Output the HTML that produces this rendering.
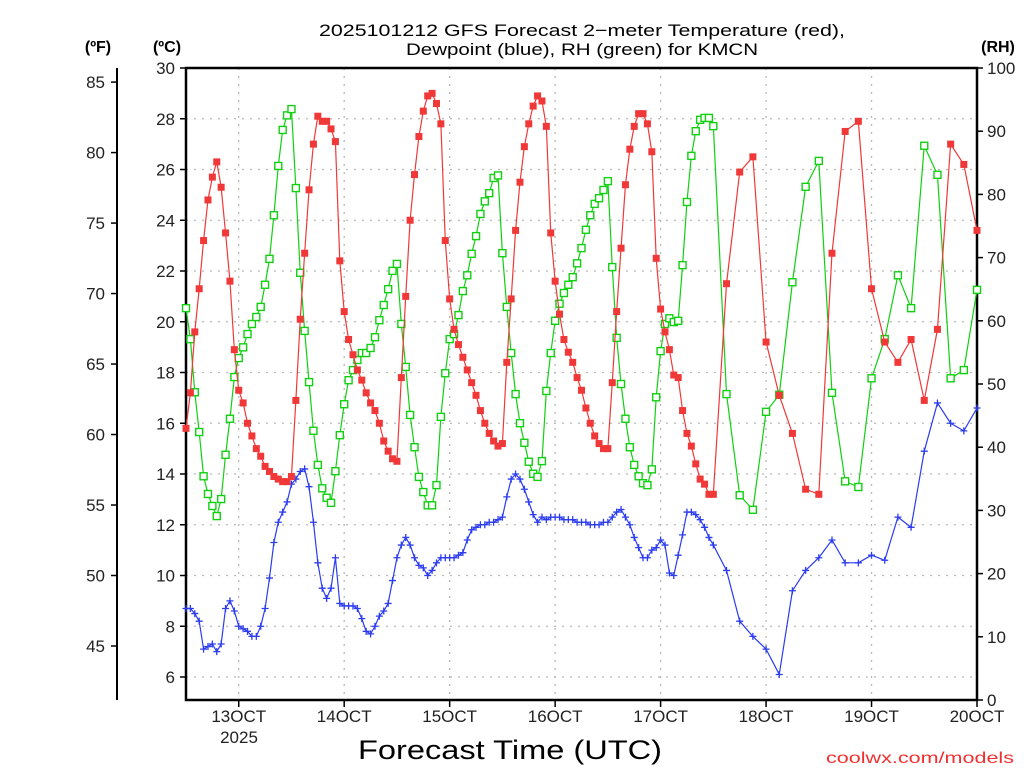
<!DOCTYPE html>
<html><head><meta charset="utf-8"><style>
html,body{margin:0;padding:0;background:#fff;}
svg{display:block;font-family:"Liberation Sans",sans-serif;}
</style></head><body>
<svg id="chart" width="1024" height="768" viewBox="0 0 1024 768" xmlns="http://www.w3.org/2000/svg">
<g id="grid"></g>
<g id="axes"></g>
<g id="series"></g>
<text x="582" y="36" font-size="17" text-anchor="middle" textLength="526" lengthAdjust="spacingAndGlyphs">2025101212 GFS Forecast 2−meter Temperature (red),</text>
<text x="582" y="55" font-size="17" text-anchor="middle" textLength="352" lengthAdjust="spacingAndGlyphs">Dewpoint (blue), RH (green) for KMCN</text>
<text x="98" y="52" font-size="16" font-weight="bold" text-anchor="middle">(ºF)</text>
<text x="167" y="52" font-size="16" font-weight="bold" text-anchor="middle">(ºC)</text>
<text x="998" y="52" font-size="16" font-weight="bold" text-anchor="middle">(RH)</text>
<text x="239" y="743" font-size="17" text-anchor="middle" fill="#222">2025</text>
<text x="510" y="759" font-size="27" text-anchor="middle" textLength="304" lengthAdjust="spacingAndGlyphs">Forecast Time (UTC)</text>
<text x="1014" y="763" font-size="16" fill="#f03030" text-anchor="end" textLength="188" lengthAdjust="spacingAndGlyphs">coolwx.com/models</text>
</svg>
<script>
// temperature (°C), hourly from -12h (rel. 13OCT 00Z) to 108h
const tempEarly=[15.8,17.2,19.6,21.3,23.2,24.8,25.7,26.3,25.3,23.5,21.6,18.9,17.3,16.8,16.0,15.5,15.0,14.7,14.3,14.1,13.9,13.8,13.7,13.7,13.9,16.9,20.1,22.7,25.2,27.0,28.1,27.9,27.9,27.6,27.1,22.4,20.4,19.3,18.7,18.1,17.7,17.2,16.8,16.5,16.0,15.3,14.9,14.6,14.5,17.8,21.0,24.0,25.8,27.3,28.3,28.9,29.0,28.6,27.8,23.2,20.9,19.7,19.1,18.6,18.1,17.6,17.1,16.5,16.0,15.6,15.3,15.1,15.2,18.4,20.9,23.6,25.5,26.9,27.8,28.5,28.9,28.7,27.7,23.5,21.6,20.3,19.3,18.8,18.4,17.8,17.3,16.6,16.0,15.5,15.2,15.0,15.0,17.6,20.4,22.9,25.4,26.8,27.7,28.2,28.2,27.8,26.7,22.5,20.5,19.6,18.9,17.9,17.8,16.5,15.6,15.1,14.4,13.8,13.6,13.2,13.2];
// temperature 3-hourly from 111h to 168h
const tempLate=[21.5,25.9,26.5,19.2,17.1,15.6,13.4,13.2,22.7,27.5,27.9,21.3,19.2,18.4,19.3,16.9,19.7,27.0,26.2,23.6];
const rhEarly=[62.0,57.1,48.7,42.4,35.4,32.6,30.7,29.1,31.8,38.8,44.5,51.1,54.1,55.8,57.9,59.5,60.6,62.2,65.7,69.8,76.7,84.5,90.2,92.5,93.5,81.0,67.6,58.4,50.3,42.6,37.2,33.5,32.0,31.2,36.2,41.9,46.8,50.6,52.2,53.8,54.9,54.9,55.7,57.4,60.1,62.5,65.0,67.9,69.0,59.5,52.7,45.1,40.0,35.3,32.9,30.8,30.8,34.0,44.8,51.7,57.1,57.9,60.9,64.7,67.2,70.6,73.4,76.9,78.9,80.2,82.6,83.0,70.7,62.2,54.9,48.4,43.8,40.7,37.7,35.8,35.3,37.8,48.9,54.9,60.0,62.7,64.4,65.7,66.9,69.1,71.5,74.4,76.7,78.5,79.4,80.7,82.1,68.5,57.3,50.0,44.5,40.0,37.2,35.4,34.3,34.0,36.5,47.9,55.2,59.5,60.4,59.8,60.0,68.8,78.8,86.1,90.0,91.8,92.1,92.1,90.8];
const rhLate=[48.4,32.4,30.1,45.6,48.3,66.1,81.2,85.3,48.6,34.6,33.7,50.9,57.1,67.2,62.0,87.7,83.1,50.9,52.2,64.9];
const dewEarly=[8.7,8.7,8.5,8.2,7.1,7.2,7.3,7.0,7.3,8.7,9.0,8.6,8.0,7.9,7.8,7.6,7.6,8.0,8.7,9.9,11.3,12.1,12.5,12.9,13.6,13.8,14.1,14.2,13.5,12.1,10.5,9.5,9.1,9.5,10.7,8.9,8.8,8.8,8.8,8.7,8.3,7.8,7.7,8.0,8.4,8.6,8.9,9.8,10.7,11.2,11.5,11.2,10.7,10.4,10.3,10.0,10.2,10.5,10.7,10.7,10.7,10.7,10.8,10.9,11.4,11.8,11.9,12.0,12.0,12.1,12.1,12.2,12.3,13.1,13.8,14.0,13.8,13.4,12.9,12.4,12.1,12.3,12.2,12.3,12.3,12.3,12.2,12.2,12.2,12.1,12.1,12.1,12.0,12.0,12.0,12.1,12.1,12.3,12.5,12.6,12.3,12.0,11.5,11.1,10.7,10.7,11.0,11.1,11.4,11.2,10.1,10.0,10.8,11.6,12.5,12.5,12.4,12.2,11.9,11.5,11.2];
const dewLate=[10.2,8.2,7.6,7.1,6.1,9.4,10.2,10.7,11.4,10.5,10.5,10.8,10.6,12.3,11.9,14.9,16.8,16.0,15.7,16.6];
const celsiusTicks=[6,8,10,12,14,16,18,20,22,24,26,28,30];
const fahrenheitTicks=[45,50,55,60,65,70,75,80,85];
const rhTicks=[0,10,20,30,40,50,60,70,80,90,100];
const dayLabels=["13OCT","14OCT","15OCT","16OCT","17OCT","18OCT","19OCT","20OCT"];

const L=186,R=977,T=68,B=700;
const H0=-12,H1=168;
const C_TOP=30,C_PER_PX=1/25.375;
function xS(h){return L+(h-H0)/(H1-H0)*(R-L);}
function yC(c){return T+(C_TOP-c)*25.375;}
function yRH(r){return B-(r/100)*(B-T);}
function yF(f){return yC((f-32)/1.8);}
function hoursEarly(i){return -12+i;}
function hoursLate(i){return 111+3*i;}

const NS="http://www.w3.org/2000/svg";
function mk(tag,attrs,parent){const e=document.createElementNS(NS,tag);for(const k in attrs)e.setAttribute(k,attrs[k]);parent.appendChild(e);return e;}
const grid=document.getElementById('grid'),axes=document.getElementById('axes'),ser=document.getElementById('series');

// grid
celsiusTicks.forEach(c=>{if(c===30)return;
 const g=mk('line',{x1:L,x2:R,y1:yC(c),y2:yC(c),stroke:'#b8b8b8','stroke-width':1.3,'stroke-dasharray':'2,6'},grid);
 
 
});
dayLabels.forEach((d,i)=>{const h=i*24;if(h>=H1)return;
 const g=mk('line',{x1:xS(h),x2:xS(h),y1:T,y2:B,stroke:'#b8b8b8','stroke-width':1.3,'stroke-dasharray':'2,6'},grid);
 
 
});
// frame
const fr=mk('rect',{x:L,y:T,width:R-L,height:B-T,fill:'none',stroke:'#000','stroke-width':2.5},axes);


// celsius ticks
celsiusTicks.forEach(c=>{const y=yC(c);
 mk('line',{x1:L-6,x2:L,y1:y,y2:y,stroke:'#000','stroke-width':1.5},axes);
 const t=mk('text',{x:L-11,y:y+6,'font-size':17,'text-anchor':'end',fill:'#222'},axes);
 t.textContent=c;
 
 
});
// fahrenheit axis
const fa=mk('line',{x1:117,x2:117,y1:T,y2:B,stroke:'#000','stroke-width':2},axes);


fahrenheitTicks.forEach(f=>{const y=yF(f);
 mk('line',{x1:111,x2:117,y1:y,y2:y,stroke:'#000','stroke-width':1.5},axes);
 const t=mk('text',{x:105,y:y+6,'font-size':17,'text-anchor':'end',fill:'#222'},axes);
 t.textContent=f;
 
 
});
// rh axis
rhTicks.forEach(r=>{const y=yRH(r);
 mk('line',{x1:R,x2:R+6,y1:y,y2:y,stroke:'#000','stroke-width':1.5},axes);
 const t=mk('text',{x:R+10,y:y+6,'font-size':17,'text-anchor':'start',fill:'#222'},axes);
 t.textContent=r;
 
 
});
// x ticks
dayLabels.forEach((d,i)=>{const x=xS(i*24);
 mk('line',{x1:x,x2:x,y1:B,y2:B+7,stroke:'#000','stroke-width':1.5},axes);
 const t=mk('text',{x:x,y:722,'font-size':17,'text-anchor':'middle',fill:'#222'},axes);
 t.textContent=d;
 
 
});

function series(early,late,yfn,color,kind,name){
 const pts=[];
 early.forEach((v,i)=>pts.push([xS(hoursEarly(i)),yfn(v)]));
 late.forEach((v,i)=>pts.push([xS(hoursLate(i)),yfn(v)]));
 const g=mk('g',{},ser);
 
 
 const pl=mk('polyline',{points:pts.map(p=>p.join(',')).join(' '),fill:'none',stroke:color,'stroke-width':1.2},g);
 
 
 pts.forEach(p=>{let m;
  if(kind==='fill'){m=mk('rect',{x:p[0]-3.5,y:p[1]-3.5,width:7,height:7,fill:color},g);}
  else if(kind==='open'){m=mk('rect',{x:p[0]-3.5,y:p[1]-3.5,width:7,height:7,fill:'#fff',stroke:color,'stroke-width':1.4},g);}
  else {m=mk('path',{d:`M${p[0]-3.5},${p[1]}h7M${p[0]},${p[1]-3.5}v7`,stroke:color,'stroke-width':1.3},g);}
  
  
 });
}
series(dewEarly,dewLate,yC,'#2c3cf0','plus','dewpoint-series');
series(rhEarly,rhLate,yRH,'#10d010','open','rh-series');
series(tempEarly,tempLate,yC,'#f03838','fill','temperature-series');
</script>
</body></html>
